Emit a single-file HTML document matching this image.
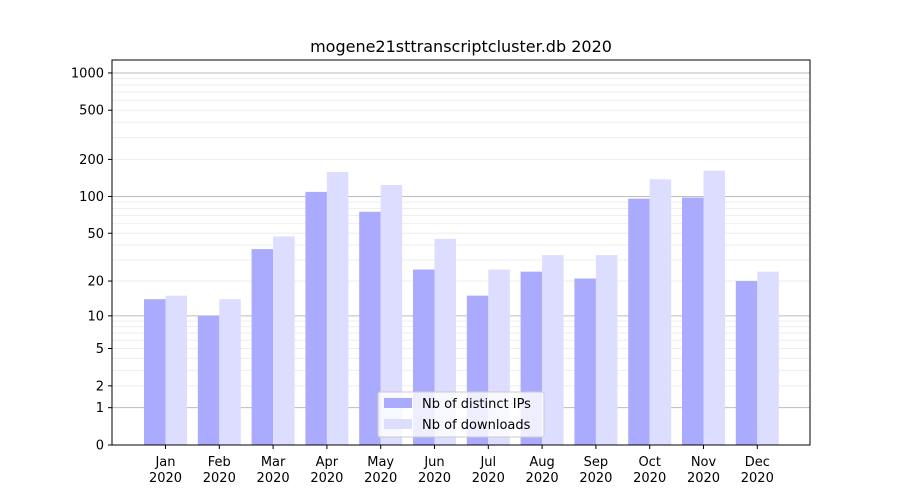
<!DOCTYPE html>
<html><head><meta charset="utf-8"><style>body{margin:0;background:#fff}svg{display:block}text{font-family:"DejaVu Sans","Liberation Sans",sans-serif;font-size:13px;fill:#000}</style></head>
<body>
<svg width="900" height="500" xmlns="http://www.w3.org/2000/svg">
<g stroke="#eee" stroke-width="1">
<line x1="112" x2="810" y1="385.84" y2="385.84"/><line x1="112" x2="810" y1="370.34" y2="370.34"/><line x1="112" x2="810" y1="358.33" y2="358.33"/><line x1="112" x2="810" y1="348.51" y2="348.51"/><line x1="112" x2="810" y1="340.21" y2="340.21"/><line x1="112" x2="810" y1="333.02" y2="333.02"/><line x1="112" x2="810" y1="326.67" y2="326.67"/><line x1="112" x2="810" y1="321" y2="321"/>
<line x1="112" x2="810" y1="281.05" y2="281.05"/><line x1="112" x2="810" y1="260.07" y2="260.07"/><line x1="112" x2="810" y1="245.02" y2="245.02"/><line x1="112" x2="810" y1="233.26" y2="233.26"/><line x1="112" x2="810" y1="223.62" y2="223.62"/><line x1="112" x2="810" y1="215.44" y2="215.44"/><line x1="112" x2="810" y1="208.35" y2="208.35"/><line x1="112" x2="810" y1="202.08" y2="202.08"/>
<line x1="112" x2="810" y1="159.4" y2="159.4"/><line x1="112" x2="810" y1="137.66" y2="137.66"/><line x1="112" x2="810" y1="122.21" y2="122.21"/><line x1="112" x2="810" y1="110.22" y2="110.22"/><line x1="112" x2="810" y1="100.42" y2="100.42"/><line x1="112" x2="810" y1="92.13" y2="92.13"/><line x1="112" x2="810" y1="84.95" y2="84.95"/><line x1="112" x2="810" y1="78.61" y2="78.61"/>
</g>
<g stroke="#bbb" stroke-width="1">
<line x1="112" x2="810" y1="407.67" y2="407.67"/><line x1="112" x2="810" y1="315.87" y2="315.87"/><line x1="112" x2="810" y1="196.46" y2="196.46"/><line x1="112" x2="810" y1="72.95" y2="72.95"/>
</g>
<g fill="#aaaaff">
<rect x="144" y="299.16" width="21.5" height="145.84"/>
<rect x="197.8" y="315.87" width="21.5" height="129.13"/>
<rect x="251.6" y="249.11" width="21.5" height="195.89"/>
<rect x="305.4" y="191.87" width="21.5" height="253.13"/>
<rect x="359.2" y="211.78" width="21.5" height="233.22"/>
<rect x="413" y="269.54" width="21.5" height="175.46"/>
<rect x="466.8" y="295.69" width="21.5" height="149.31"/>
<rect x="520.6" y="271.66" width="21.5" height="173.34"/>
<rect x="574.4" y="278.54" width="21.5" height="166.46"/>
<rect x="628.2" y="198.64" width="21.5" height="246.36"/>
<rect x="682" y="197.54" width="21.5" height="247.46"/>
<rect x="735.8" y="281.05" width="21.5" height="163.95"/>
</g>
<g fill="#ddddff">
<rect x="165.5" y="295.69" width="21.5" height="149.31"/>
<rect x="219.3" y="299.16" width="21.5" height="145.84"/>
<rect x="273.1" y="236.53" width="21.5" height="208.47"/>
<rect x="326.9" y="172.03" width="21.5" height="272.97"/>
<rect x="380.7" y="184.98" width="21.5" height="260.02"/>
<rect x="434.5" y="238.82" width="21.5" height="206.18"/>
<rect x="488.3" y="269.54" width="21.5" height="175.46"/>
<rect x="542.1" y="255.1" width="21.5" height="189.9"/>
<rect x="595.9" y="255.1" width="21.5" height="189.9"/>
<rect x="649.7" y="179.27" width="21.5" height="265.73"/>
<rect x="703.5" y="170.69" width="21.5" height="274.31"/>
<rect x="757.3" y="271.66" width="21.5" height="173.34"/>
</g>
<rect x="112" y="60" width="698" height="385" fill="none" stroke="#000" stroke-width="1"/>
<g stroke="#000">
<line x1="165.5" x2="165.5" y1="445" y2="449"/><line x1="219.3" x2="219.3" y1="445" y2="449"/><line x1="273.1" x2="273.1" y1="445" y2="449"/><line x1="326.9" x2="326.9" y1="445" y2="449"/><line x1="380.7" x2="380.7" y1="445" y2="449"/><line x1="434.5" x2="434.5" y1="445" y2="449"/><line x1="488.3" x2="488.3" y1="445" y2="449"/><line x1="542.1" x2="542.1" y1="445" y2="449"/><line x1="595.9" x2="595.9" y1="445" y2="449"/><line x1="649.7" x2="649.7" y1="445" y2="449"/><line x1="703.5" x2="703.5" y1="445" y2="449"/><line x1="757.3" x2="757.3" y1="445" y2="449"/>
<line x1="108" x2="112" y1="445" y2="445"/><line x1="108" x2="112" y1="407.67" y2="407.67"/><line x1="108" x2="112" y1="385.84" y2="385.84"/><line x1="108" x2="112" y1="348.51" y2="348.51"/><line x1="108" x2="112" y1="315.87" y2="315.87"/><line x1="108" x2="112" y1="281.05" y2="281.05"/><line x1="108" x2="112" y1="233.26" y2="233.26"/><line x1="108" x2="112" y1="196.46" y2="196.46"/><line x1="108" x2="112" y1="159.4" y2="159.4"/><line x1="108" x2="112" y1="110.22" y2="110.22"/><line x1="108" x2="112" y1="72.95" y2="72.95"/>
</g>
<g text-anchor="end">
<text x="104" y="449.5">0</text><text x="104" y="412.2">1</text><text x="104" y="390.3">2</text><text x="104" y="353">5</text><text x="104" y="320.4">10</text><text x="104" y="285.5">20</text><text x="104" y="237.8">50</text><text x="104" y="201">100</text><text x="104" y="163.9">200</text><text x="104" y="114.7">500</text><text x="104" y="77.5">1000</text>
</g>
<g text-anchor="middle">
<text x="165.5" y="466">Jan</text><text x="165.5" y="482">2020</text>
<text x="219.3" y="466">Feb</text><text x="219.3" y="482">2020</text>
<text x="273.1" y="466">Mar</text><text x="273.1" y="482">2020</text>
<text x="326.9" y="466">Apr</text><text x="326.9" y="482">2020</text>
<text x="380.7" y="466">May</text><text x="380.7" y="482">2020</text>
<text x="434.5" y="466">Jun</text><text x="434.5" y="482">2020</text>
<text x="488.3" y="466">Jul</text><text x="488.3" y="482">2020</text>
<text x="542.1" y="466">Aug</text><text x="542.1" y="482">2020</text>
<text x="595.9" y="466">Sep</text><text x="595.9" y="482">2020</text>
<text x="649.7" y="466">Oct</text><text x="649.7" y="482">2020</text>
<text x="703.5" y="466">Nov</text><text x="703.5" y="482">2020</text>
<text x="757.3" y="466">Dec</text><text x="757.3" y="482">2020</text>
</g>
<text x="461" y="52" text-anchor="middle" style="font-size:16px">mogene21sttranscriptcluster.db 2020</text>
<rect x="378" y="392" width="166" height="45" fill="#fff" fill-opacity="0.8" stroke="#ccc" rx="2"/>
<rect x="384" y="398" width="28" height="10" fill="#aaaaff"/>
<text x="422" y="408">Nb of distinct IPs</text>
<rect x="384" y="419" width="28" height="10" fill="#ddddff"/>
<text x="422" y="429">Nb of downloads</text>
</svg>
</body></html>
